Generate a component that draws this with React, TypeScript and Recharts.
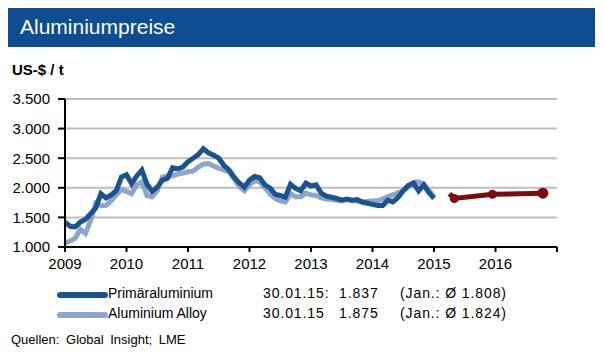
import React from "react";
import { LineChart, Line, XAxis, YAxis, CartesianGrid } from "recharts";

// monthly averages Jan 2009 – Jan 2015, US-$/t
const primaer = [
  1420, 1350, 1340, 1420, 1470, 1560, 1660, 1900, 1830, 1880, 1950, 2180,
  2220, 2070, 2200, 2300, 2060, 1940, 2010, 2130, 2160, 2340, 2320, 2350,
  2440, 2500, 2560, 2660, 2590, 2550, 2500, 2380, 2300, 2180, 2080, 2010,
  2130, 2190, 2170, 2050, 2000, 1890, 1870, 1840, 2060, 1990, 1950, 2080,
  2030, 2050, 1910, 1860, 1840, 1820, 1790, 1810, 1790, 1800, 1760, 1740,
  1720, 1700, 1700, 1790, 1760, 1840, 1950, 2040, 2080, 1950, 2050, 1920,
  1820,
];
const alloy = [
  1070, 1100, 1150, 1300, 1230, 1450, 1740, 1700, 1700, 1780, 1880, 1970,
  1940, 1900, 2050, 2100, 1870, 1850, 1950, 2180, 2200, 2200, 2230, 2250,
  2270, 2280, 2350, 2400, 2410, 2370, 2330, 2300, 2270, 2150, 2020, 1950,
  2050, 2120, 2100, 2000, 1900, 1820, 1780, 1760, 1900, 1850, 1850, 1910,
  1880, 1870, 1830, 1810, 1800, 1790, 1780, 1800, 1780, 1780, 1760, 1770,
  1780, 1780, 1810, 1850, 1880, 1920, 1950, 2020, 2090, 2100, 2060, 1960,
  1840,
];
// forecast
const progX = [2015.25, 2015.33, 2015.95, 2016.77];
const progY = [1900, 1820, 1890, 1910];

const yTicks = [1000, 1500, 2000, 2500, 3000, 3500];
const xTicks = [2009, 2010, 2011, 2012, 2013, 2014, 2015, 2016, 2017];

const hist = primaer.map((v, i) => ({ t: 2009 + i / 12, p: v, a: alloy[i] }));
const prog = progX.map((t, i) => ({ t, f: progY[i] }));

const FONT = "'Liberation Sans', Arial, sans-serif";
const DARK = "#1B5390";
const LIGHT = "#8EA5CB";
const RED = "#7A0C0C";

const fmt = (v: number) => v.toLocaleString("de-DE");

const ProgDot = (props: any) => {
  const { cx, cy, index } = props;
  if (index === 0) return null;
  return <circle key={index} cx={cx} cy={cy} r={index === 3 ? 5.5 : 4.5} fill={RED} />;
};

const legendRows = [
  { c: DARK, n: "Primäraluminium", d: "30.01.15:  1.837", j: "(Jan.: Ø 1.808)", y: 287 },
  { c: LIGHT, n: "Aluminium Alloy", d: "30.01.15   1.875", j: "(Jan.: Ø 1.824)", y: 307 },
];

export default function App() {
  return (
    <div style={{ position: "relative", width: 603, height: 357, margin: -8, background: "#fff", fontFamily: FONT }}>
      <div style={{ position: "absolute", left: 7, top: 7, width: 589, height: 40, background: "#0D4D90", color: "#fff", fontSize: 21, lineHeight: "40px", paddingLeft: 13, boxSizing: "border-box" }}>
        Aluminiumpreise
      </div>
      <div style={{ position: "absolute", left: 12, top: 61, fontSize: 15, fontWeight: "bold" }}>US-$ / t</div>
      <div style={{ position: "absolute", left: 0, top: 0 }}>
        <LineChart width={603} height={357} margin={{ top: 99, right: 46, bottom: 80, left: 0 }}>
          <CartesianGrid horizontal vertical={false} stroke="#BEBEBE" strokeWidth={2} />
          <XAxis
            type="number" dataKey="t" domain={[2009, 2017]} ticks={xTicks} allowDuplicatedCategory={false}
            tickFormatter={(v) => (v === 2017 ? "" : String(v))}
            stroke="#000" strokeWidth={2} tickSize={5} tickMargin={6} height={30}
            tick={{ fill: "#000", fontSize: 15, fontFamily: FONT }}
          />
          <YAxis
            type="number" domain={[1000, 3500]} ticks={yTicks} tickFormatter={fmt} width={65}
            stroke="#000" strokeWidth={2} tickSize={7} tickMargin={8}
            tick={{ fill: "#000", fontSize: 15, fontFamily: FONT }}
          />
          <Line data={hist} dataKey="a" type="linear" stroke={LIGHT} strokeWidth={5} dot={false} isAnimationActive={false} />
          <Line data={hist} dataKey="p" type="linear" stroke={DARK} strokeWidth={5} dot={false} isAnimationActive={false} />
          <Line data={prog} dataKey="f" type="linear" stroke={RED} strokeWidth={5} dot={ProgDot} isAnimationActive={false} />
        </LineChart>
      </div>
      {legendRows.map((r) => (
        <React.Fragment key={r.n}>
          <div style={{ position: "absolute", left: 57, top: r.y + 5, width: 51, height: 6, borderRadius: 3, background: r.c }} />
          <div style={{ position: "absolute", left: 108, top: r.y - 2, fontSize: 14, whiteSpace: "pre" }}>{r.n}</div>
          <div style={{ position: "absolute", left: 263, top: r.y - 2, fontSize: 14, letterSpacing: 0.9, whiteSpace: "pre" }}>{r.d}</div>
          <div style={{ position: "absolute", left: 400, top: r.y - 2, fontSize: 14, letterSpacing: 0.9, whiteSpace: "pre" }}>{r.j}</div>
        </React.Fragment>
      ))}
      <div style={{ position: "absolute", left: 11, top: 332, fontSize: 13, wordSpacing: 3, whiteSpace: "pre" }}>Quellen: Global Insight; LME</div>
    </div>
  );
}
